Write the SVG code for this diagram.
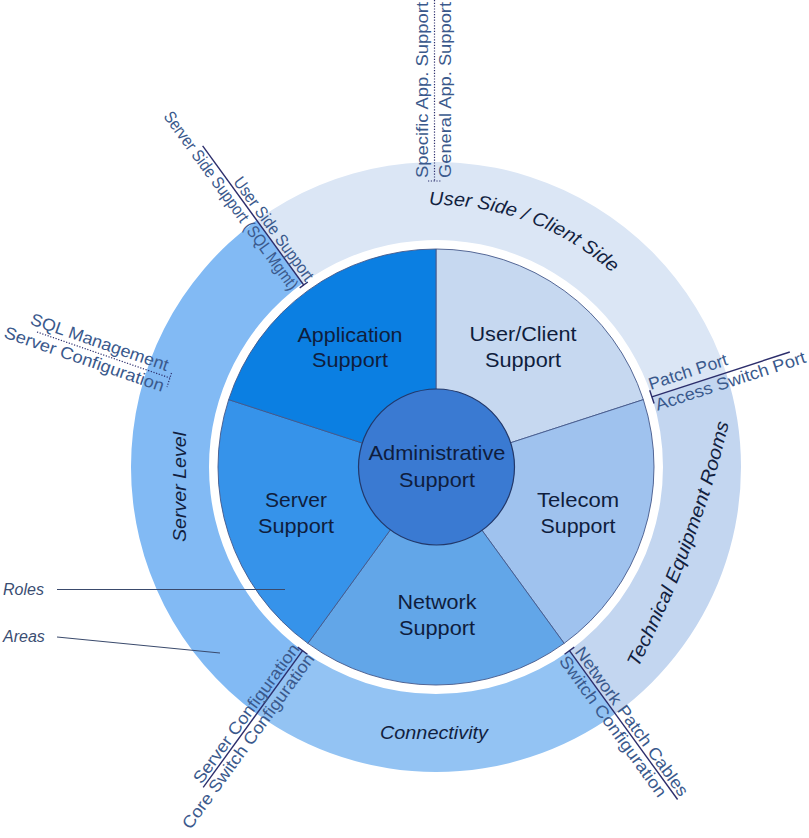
<svg xmlns="http://www.w3.org/2000/svg" width="809" height="838" viewBox="0 0 809 838">
<style>
  text { font-family: "Liberation Sans", Arial, sans-serif; }
  .pie { font-size: 21px; fill: #0f1d3d; text-anchor: middle; }
  .ring { font-size: 19px; font-style: italic; fill: #121f3f; }
  .lab { font-size: 17px; fill: #3a598c; }
  .key { font-size: 16px; font-style: italic; fill: #3a4d72; }
  .wedge { stroke: #44588a; stroke-width: 0.9; }
  .sol { stroke: #2c2e6c; stroke-width: 1.4; fill: none; }
  .dot { stroke: #2c2e6c; stroke-width: 1.2; stroke-dasharray: 1.2 1.6; fill: none; }
  .lead { stroke: #3a4a6c; stroke-width: 1.2; fill: none; }
</style>
<defs>
  <path id="arcUser" d="M429.14,205.1 A262,262 0 0 1 614.7,275.4"/>
  <path id="arcTech" d="M638,668 Q702.5,539 729,422"/>
</defs>
<rect width="809" height="838" fill="#ffffff"/>

<g id="area-user-side">
  <path d="M256.72,220.25 A305,305 0 0 1 726.07,372.75 L651.89,396.85 A227,227 0 0 0 302.57,283.35 Z" fill="#dbe6f5"/>
  <text class="ring"><textPath href="#arcUser" textLength="200" lengthAdjust="spacingAndGlyphs">User Side / Client Side</textPath></text>
</g>
<g id="area-technical-rooms">
  <path d="M726.07,372.75 A305,305 0 0 1 615.28,713.75 L569.43,650.65 A227,227 0 0 0 651.89,396.85 Z" fill="#c3d6f0"/>
  <text class="ring" font-size="18"><textPath href="#arcTech" textLength="262" lengthAdjust="spacingAndGlyphs">Technical Equipment Rooms</textPath></text>
</g>
<g id="area-connectivity">
  <path d="M615.28,713.75 A305,305 0 0 1 256.72,713.75 L302.57,650.65 A227,227 0 0 0 569.43,650.65 Z" fill="#93c3f3"/>
  <text class="ring" x="434" y="739" text-anchor="middle" textLength="108" lengthAdjust="spacingAndGlyphs">Connectivity</text>
</g>
<g id="area-server-level">
  <path d="M256.72,713.75 A305,305 0 0 1 256.72,220.25 L302.57,283.35 A227,227 0 0 0 302.57,650.65 Z" fill="#82baf4"/>
  <text class="ring" font-size="18" transform="translate(186,542) rotate(-90)" textLength="110" lengthAdjust="spacingAndGlyphs">Server Level</text>
</g>

<g id="role-user-client">
  <path class="wedge" d="M436,467 L436,249 A218,218 0 0 1 643.33,399.63 Z" fill="#c6d8f0"/>
  <text class="pie" x="523" y="341" textLength="107" lengthAdjust="spacingAndGlyphs">User/Client</text>
  <text class="pie" x="523" y="367" textLength="76" lengthAdjust="spacingAndGlyphs">Support</text>
</g>
<g id="role-telecom">
  <path class="wedge" d="M436,467 L643.33,399.63 A218,218 0 0 1 564.14,643.37 Z" fill="#9fc2ee"/>
  <text class="pie" x="578" y="507" textLength="82" lengthAdjust="spacingAndGlyphs">Telecom</text>
  <text class="pie" x="578" y="533" textLength="75" lengthAdjust="spacingAndGlyphs">Support</text>
</g>
<g id="role-network">
  <path class="wedge" d="M436,467 L564.14,643.37 A218,218 0 0 1 307.86,643.37 Z" fill="#62a6e8"/>
  <text class="pie" x="437" y="609" textLength="79" lengthAdjust="spacingAndGlyphs">Network</text>
  <text class="pie" x="437" y="635" textLength="76" lengthAdjust="spacingAndGlyphs">Support</text>
</g>
<g id="role-server">
  <path class="wedge" d="M436,467 L307.86,643.37 A218,218 0 0 1 228.67,399.63 Z" fill="#3693ea"/>
  <text class="pie" x="296" y="507" textLength="62" lengthAdjust="spacingAndGlyphs">Server</text>
  <text class="pie" x="296" y="533" textLength="76" lengthAdjust="spacingAndGlyphs">Support</text>
</g>
<g id="role-application">
  <path class="wedge" d="M436,467 L228.67,399.63 A218,218 0 0 1 436,249 Z" fill="#0b7fe2"/>
  <text class="pie" x="350" y="342" textLength="105" lengthAdjust="spacingAndGlyphs">Application</text>
  <text class="pie" x="350" y="367" textLength="76" lengthAdjust="spacingAndGlyphs">Support</text>
</g>
<g id="role-administrative">
  <circle cx="436.5" cy="467" r="78" fill="#3a7ad2" stroke="#22386a" stroke-width="1.2"/>
  <text class="pie" x="437" y="460" textLength="137" lengthAdjust="spacingAndGlyphs">Administrative</text>
  <text class="pie" x="437" y="487" textLength="76" lengthAdjust="spacingAndGlyphs">Support</text>
</g>

<g id="connectors">
  <line class="dot" x1="434.5" y1="0" x2="434.5" y2="181"/>
  <line class="dot" x1="428" y1="181" x2="441" y2="181"/>
  <line class="dot" x1="37" y1="332" x2="170" y2="378"/>
  <line class="dot" x1="171.5" y1="373" x2="167" y2="387"/>
  <line class="sol" x1="202.65" y1="145.82" x2="303.75" y2="284.97"/>
  <line class="sol" x1="299.7" y1="287.9" x2="307.8" y2="282.0"/>
  <line class="sol" x1="651.89" y1="396.85" x2="789.8" y2="352.0"/>
  <line class="sol" x1="649.7" y1="390.2" x2="654.1" y2="403.5"/>
  <line class="sol" x1="569.43" y1="650.65" x2="677.6" y2="799.5"/>
  <line class="sol" x1="564.6" y1="654.2" x2="574.3" y2="647.1"/>
  <line class="sol" x1="302.57" y1="650.65" x2="203.2" y2="787.4"/>
  <line class="sol" x1="297.7" y1="647.1" x2="307.4" y2="654.2"/>
  <line class="lead" x1="57" y1="589.5" x2="285" y2="589.5"/>
  <line class="lead" x1="57" y1="637" x2="220" y2="653"/>
</g>

<g id="labels">
  <text class="lab" transform="translate(428,178) rotate(-90)" textLength="176" lengthAdjust="spacingAndGlyphs">Specific App. Support</text>
  <text class="lab" transform="translate(451,178) rotate(-90)" textLength="176" lengthAdjust="spacingAndGlyphs">General App. Support</text>
  <text class="lab" transform="translate(162.9,116.6) rotate(54)" textLength="216" lengthAdjust="spacingAndGlyphs">Server Side Support (SQL Mgmt)</text>
  <text class="lab" transform="translate(232.7,182.1) rotate(54)" textLength="124" lengthAdjust="spacingAndGlyphs">User Side Support</text>
  <text class="lab" transform="translate(29.2,324) rotate(19)" textLength="145" lengthAdjust="spacingAndGlyphs">SQL Management</text>
  <text class="lab" transform="translate(3,337.2) rotate(19)" textLength="168" lengthAdjust="spacingAndGlyphs">Server Configuration</text>
  <text class="lab" transform="translate(650.7,389.9) rotate(-18)" textLength="82" lengthAdjust="spacingAndGlyphs">Patch Port</text>
  <text class="lab" transform="translate(657.5,410.8) rotate(-18)" textLength="157" lengthAdjust="spacingAndGlyphs">Access Switch Port</text>
  <text class="lab" transform="translate(574.2,652.1) rotate(54)" textLength="180" lengthAdjust="spacingAndGlyphs">Network Patch Cables</text>
  <text class="lab" transform="translate(558.5,661.1) rotate(54)" textLength="170" lengthAdjust="spacingAndGlyphs">Switch Configuration</text>
  <text class="lab" transform="translate(201.4,784.8) rotate(-54)" textLength="168" lengthAdjust="spacingAndGlyphs">Server Configuration</text>
  <text class="lab" transform="translate(190.6,830.2) rotate(-54)" textLength="212" lengthAdjust="spacingAndGlyphs">Core Switch Configuration</text>
  <text class="key" x="3" y="595">Roles</text>
  <text class="key" x="3" y="642">Areas</text>
</g>
</svg>
